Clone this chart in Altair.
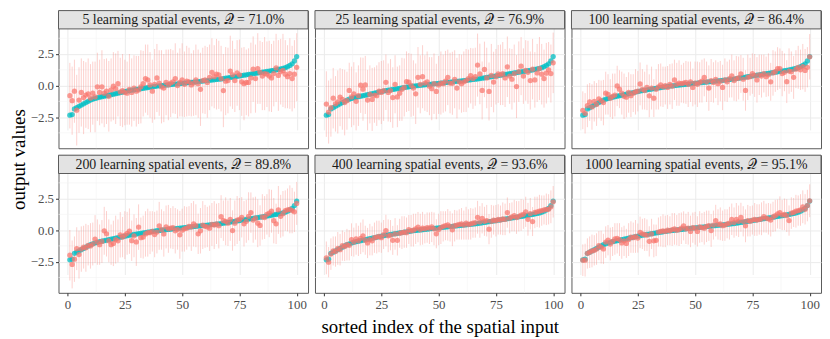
import altair as alt
import pandas as pd

INDEX = list(range(1, 101))

TRUE = [
    -2.35, -2.30, -1.85, -1.75, -1.65, -1.55, -1.45, -1.35, -1.25, -1.15,
    -1.08, -1.02, -0.97, -0.92, -0.88, -0.84, -0.80, -0.76, -0.72, -0.68,
    -0.64, -0.60, -0.56, -0.52, -0.48, -0.44, -0.40, -0.37, -0.34, -0.31,
    -0.28, -0.25, -0.22, -0.19, -0.16, -0.13, -0.10, -0.07, -0.04, -0.02,
    0.00, 0.02, 0.04, 0.06, 0.08, 0.10, 0.12, 0.14, 0.16, 0.18,
    0.20, 0.22, 0.24, 0.26, 0.28, 0.30, 0.32, 0.34, 0.36, 0.38,
    0.40, 0.42, 0.44, 0.46, 0.48, 0.50, 0.52, 0.55, 0.58, 0.61,
    0.64, 0.67, 0.70, 0.73, 0.76, 0.79, 0.82, 0.85, 0.88, 0.91,
    0.94, 0.97, 1.00, 1.03, 1.06, 1.09, 1.12, 1.15, 1.18, 1.21,
    1.24, 1.28, 1.32, 1.36, 1.42, 1.50, 1.60, 1.72, 1.95, 2.30,
]

P1_RED = [
    -0.80, -1.20, -0.45, -1.95, -1.15, -0.55, -0.95, -0.75, -0.65, -1.00,
    -0.60, -0.90, -0.10, -0.55, -0.10, -0.60, -0.45, -0.85, -0.35, -0.05,
    -0.25, 0.15, -0.50, -0.40, -0.55, -0.60, -0.30, -0.55, -0.20, -0.45,
    -0.35, -0.10, 0.15, 0.55, 0.45, 0.05, -0.45, 0.10, 0.60, 0.20,
    -0.10, -0.20, 0.25, 0.05, 0.20, 0.30, 0.55, 0.00, 0.25, 0.45,
    0.10, 0.35, 0.30, 0.05, 0.20, 0.45, 0.15, -0.30, 0.40, 0.45,
    0.25, 0.65, 1.05, 0.70, 0.90, 0.85, 0.55, -0.40, 0.35, 0.40,
    1.15, 0.85, 0.40, 1.00, 0.85, 0.30, 0.15, 0.25, 0.25, 0.60,
    1.30, 0.55, 1.35, 1.05, 0.75, 0.95, 0.90, 0.75, 0.60, 0.95,
    1.40, 0.80, 1.10, 1.20, 0.90, 0.70, 0.95, 0.55, 0.90, 1.45,
]
P1_HW = [
    2.6, 2.7, 2.5, 2.8, 2.6, 2.7, 2.9, 2.6, 2.8, 2.7,
    2.5, 2.8, 2.7, 2.6, 2.9, 2.7, 2.6, 2.8, 2.5, 2.7,
    2.8, 2.6, 2.7, 2.9, 2.6, 2.5, 2.8, 2.7, 2.6, 2.8,
    2.7, 2.9, 2.6, 2.7, 2.8, 2.6, 2.5, 2.8, 2.7, 2.6,
    2.9, 2.7, 2.6, 2.8, 2.7, 2.5, 2.8, 2.6, 2.7, 2.9,
    2.6, 2.8, 2.7, 2.5, 2.6, 2.8, 2.7, 2.9, 2.6, 2.7,
    2.8, 2.6, 2.7, 2.5, 2.8, 2.7, 2.6, 2.9, 2.7, 2.6,
    2.8, 2.7, 2.5, 2.6, 2.8, 2.7, 2.9, 2.6, 2.7, 2.8,
    2.6, 2.7, 2.8, 2.5, 2.7, 2.9, 2.6, 2.8, 2.7, 2.6,
    2.7, 2.8, 2.6, 2.9, 2.7, 2.5, 2.8, 2.6, 2.7, 2.7,
]

P2_RED = [
    -1.47, -2.10, -1.75, -1.00, -1.45, -1.30, -0.92, -1.10, -1.35, -1.20,
    -0.39, -0.90, -0.65, -1.25, -0.80, 0.03, -0.29, 0.05, -1.15, -0.70,
    -1.10, -0.75, -0.80, -0.45, -0.55, -0.40, 0.26, -0.55, -0.40, -0.95,
    0.10, -0.90, -0.60, -0.30, -0.15, 0.31, 0.28, 0.02, -0.20, -0.65,
    0.65, 0.10, 0.70, 0.20, 0.30, -0.05, -0.25, 0.15, -0.47, 0.05,
    0.20, 0.15, 0.35, 0.65, 0.20, 0.18, 0.50, -0.20, 0.30, 0.15,
    0.30, 0.40, 0.55, 0.78, 0.55, 0.70, 1.62, 0.92, -0.39, 1.28,
    0.60, -0.47, 0.80, 0.28, 0.70, 0.92, 0.85, 0.95, 0.60, 1.49,
    0.75, 0.50, 0.95, -0.08, 1.10, 1.54, 0.75, 1.20, 1.05, 0.40,
    1.30, 0.45, 1.00, 1.35, 0.90, 0.55, 0.98, 1.25, 0.95, 1.80,
]
P2_HW = [
    2.6, 2.5, 2.3, 2.4, 2.2, 2.5, 2.3, 2.4, 2.6, 2.3,
    2.2, 2.4, 2.5, 2.3, 2.4, 2.2, 2.5, 2.3, 2.4, 2.3,
    2.5, 2.2, 2.4, 2.3, 2.5, 2.4, 2.2, 2.3, 2.5, 2.4,
    2.3, 2.4, 2.2, 2.5, 2.3, 2.4, 2.3, 2.5, 2.2, 2.4,
    2.4, 2.3, 2.5, 2.2, 2.4, 2.3, 2.5, 2.4, 2.2, 2.3,
    2.5, 2.3, 2.4, 2.2, 2.4, 2.5, 2.3, 2.4, 2.2, 2.3,
    2.4, 2.5, 2.3, 2.2, 2.4, 2.3, 2.5, 2.4, 2.3, 2.2,
    2.4, 2.3, 2.5, 2.4, 2.2, 2.3, 2.4, 2.5, 2.3, 2.4,
    2.2, 2.4, 2.3, 2.5, 2.4, 2.3, 2.2, 2.4, 2.5, 2.3,
    2.4, 2.2, 2.3, 2.5, 2.4, 2.3, 2.4, 2.2, 2.3, 2.4,
]

P3_RED = [
    -1.96, -2.20, -1.60, -1.30, -1.70, -1.25, -1.50, -1.05, -1.20, -1.35,
    -0.60, -0.70, -1.00, -0.85, -0.75, -0.03, -0.29, -0.60, -0.85, -0.92,
    -0.55, -0.80, -0.60, -0.50, -0.45, 0.13, -0.30, -0.40, -0.15, -0.81,
    -0.20, -1.00, -0.30, -0.10, 0.05, -0.10, 0.00, -0.15, 0.10, -0.05,
    0.45, 0.10, 0.20, 0.15, 0.20, 0.25, 0.10, 0.30, -0.15, 0.20,
    0.10, 0.25, 0.35, 0.65, 0.30, -0.20, 0.40, 0.25, 0.50, 0.15,
    0.35, -0.15, 0.45, 0.30, 0.55, 0.76, 0.40, 0.55, 0.60, 0.92,
    0.50, -0.39, 0.65, 0.70, 0.95, 0.80, 0.45, 0.85, 0.75, 0.95,
    0.70, 0.85, 0.30, 1.00, 1.10, 1.34, 1.34, 0.95, 1.05, 0.31,
    1.15, 1.10, 0.65, 1.30, 1.45, 1.25, 1.50, 1.20, 1.45, 2.28,
]
P3_HW = [
    1.5, 1.6, 1.7, 1.5, 1.8, 1.6, 1.7, 1.5, 1.6, 1.8,
    1.7, 1.6, 1.5, 1.8, 1.7, 1.6, 1.5, 1.7, 1.8, 1.6,
    1.6, 1.7, 1.5, 1.8, 1.6, 1.7, 1.6, 1.5, 1.8, 1.7,
    1.7, 1.5, 1.6, 1.8, 1.7, 1.6, 1.5, 1.7, 1.6, 1.8,
    1.6, 1.7, 1.8, 1.5, 1.6, 1.7, 1.8, 1.6, 1.5, 1.7,
    1.8, 1.6, 1.7, 1.5, 1.6, 1.8, 1.7, 1.6, 1.5, 1.7,
    1.6, 1.8, 1.7, 1.6, 1.5, 1.7, 1.6, 1.8, 1.7, 1.5,
    1.7, 1.6, 1.8, 1.5, 1.6, 1.7, 1.8, 1.6, 1.7, 1.5,
    1.6, 1.7, 1.5, 1.8, 1.6, 1.7, 1.6, 1.8, 1.5, 1.7,
    1.8, 1.6, 1.7, 1.5, 1.7, 1.6, 1.8, 1.7, 1.6, 1.8,
]

P4_RED = [
    -1.99, -2.72, -2.30, -1.47, -1.94, -1.50, -1.35, -1.40, -1.20, -1.25,
    -1.10, -0.71, -0.95, -1.15, -0.90, -0.05, -0.29, -0.85, -1.15, -1.05,
    -0.75, -0.85, -0.37, -0.55, -0.40, -0.25, -0.08, -0.84, -0.45, -0.94,
    0.24, -0.60, -0.55, -0.30, -0.20, -0.20, -0.10, -0.35, -0.15, 0.34,
    0.05, -0.30, 0.25, 0.10, 0.15, 0.20, -0.05, 0.05, -0.37, 0.00,
    0.10, 0.15, 0.30, 0.25, 0.50, 0.35, -0.29, -0.05, 0.40, 0.30,
    0.25, 0.15, 0.45, 0.40, 0.50, 0.35, 1.07, 0.75, 0.70, 0.55,
    0.85, -0.03, 0.55, 0.80, 0.85, 1.02, 0.50, 0.70, 1.10, 1.39,
    0.80, 0.95, 0.55, 0.37, 1.05, 1.00, 1.25, 1.34, 1.50, 0.75,
    0.50, 1.60, 1.10, 1.30, 1.55, 1.60, 1.65, 1.55, 1.45, 2.12,
]
P4_HW = [
    2.0, 1.9, 1.8, 1.7, 1.9, 1.8, 1.7, 1.9, 1.6, 1.8,
    1.7, 1.9, 1.8, 1.6, 1.7, 1.9, 1.8, 1.7, 1.6, 1.8,
    1.9, 1.7, 1.8, 1.6, 1.9, 1.7, 1.8, 1.6, 1.7, 1.9,
    1.8, 1.6, 1.7, 1.8, 1.9, 1.7, 1.6, 1.8, 1.7, 1.9,
    1.6, 1.8, 1.7, 1.9, 1.6, 1.7, 1.8, 1.6, 1.9, 1.7,
    1.8, 1.7, 1.6, 1.9, 1.8, 1.7, 1.6, 1.8, 1.9, 1.7,
    1.6, 1.8, 1.7, 1.9, 1.6, 1.8, 1.7, 1.6, 1.9, 1.8,
    1.7, 1.6, 1.8, 1.9, 1.7, 1.6, 1.8, 1.7, 1.9, 1.6,
    1.8, 1.7, 1.9, 1.6, 1.8, 1.7, 1.6, 1.9, 1.7, 1.8,
    1.6, 1.9, 1.7, 1.8, 1.6, 1.7, 1.9, 1.8, 1.6, 1.7,
]

P5_RED = [
    -2.20, -2.54, -1.90, -1.65, -1.70, -1.45, -1.55, -1.23, -1.30, -1.15,
    -1.20, -0.76, -0.95, -0.70, -0.85, -0.65, -0.45, -0.80, -1.02, -0.75,
    -0.85, -0.60, -0.55, -0.50, -0.60, -0.35, -0.03, -0.45, -0.40, -0.81,
    -0.30, -0.81, -0.25, -0.20, -0.15, -0.20, 0.05, -0.05, 0.00, 0.10,
    0.24, 0.05, 0.15, 0.10, 0.20, 0.15, 0.25, 0.10, -0.29, 0.05,
    0.20, 0.30, 0.35, 0.42, 0.30, 0.03, 0.35, 0.40, 0.45, 0.50,
    0.40, 0.55, 0.45, 0.50, 0.55, 0.60, 1.02, 0.65, 0.94, 0.70,
    0.75, 0.08, 0.70, 0.80, 0.75, 0.85, 0.80, 0.90, 0.85, 1.39,
    0.95, 1.05, 1.15, 1.00, 1.10, 1.20, 1.25, 1.45, 0.86, 1.30,
    0.68, 1.40, 1.45, 1.50, 1.55, 1.60, 1.65, 1.65, 1.85, 2.25,
]
P5_HW = [
    1.3, 1.2, 1.25, 1.15, 1.2, 1.3, 1.25, 1.2, 1.15, 1.25,
    1.2, 1.3, 1.15, 1.25, 1.2, 1.25, 1.3, 1.15, 1.2, 1.25,
    1.15, 1.2, 1.3, 1.25, 1.2, 1.15, 1.25, 1.3, 1.2, 1.15,
    1.25, 1.2, 1.15, 1.3, 1.25, 1.2, 1.15, 1.25, 1.3, 1.2,
    1.2, 1.25, 1.3, 1.15, 1.2, 1.25, 1.2, 1.3, 1.15, 1.25,
    1.3, 1.2, 1.15, 1.25, 1.2, 1.3, 1.25, 1.15, 1.2, 1.25,
    1.15, 1.3, 1.2, 1.25, 1.15, 1.2, 1.3, 1.25, 1.2, 1.15,
    1.25, 1.2, 1.3, 1.15, 1.25, 1.2, 1.15, 1.3, 1.25, 1.2,
    1.2, 1.15, 1.25, 1.3, 1.2, 1.25, 1.15, 1.2, 1.3, 1.25,
    1.15, 1.25, 1.2, 1.3, 1.2, 1.15, 1.25, 1.2, 1.3, 1.25,
]

P6_RED = [
    -2.38, -2.38, -1.85, -1.75, -1.65, -1.60, -1.50, -1.23, -1.35, -1.49,
    -0.95, -0.80, -1.10, -0.90, -0.70, -0.65, -0.75, -1.02, -0.85, -1.05,
    -0.75, -0.55, -0.60, -0.50, -0.63, -0.18, -0.30, -0.35, -0.40, -0.89,
    -0.30, -0.85, -0.81, -0.15, -0.10, -0.05, -0.10, 0.00, -0.05, 0.05,
    0.10, 0.00, 0.05, 0.15, 0.34, 0.10, 0.15, -0.10, 0.20, 0.15,
    -0.10, 0.25, 0.20, 0.15, 0.30, 0.35, -0.03, 0.40, 0.76, 0.45,
    0.50, 0.35, 0.40, 0.50, 0.55, 0.86, 0.60, 0.85, 0.70, 1.02,
    0.70, 0.34, 0.75, 0.70, 0.80, 0.85, 0.80, 0.85, 0.90, 1.07,
    0.95, 0.90, 0.80, 1.05, 1.15, 1.28, 1.38, 1.20, 1.25, 1.15,
    0.76, 1.35, 1.40, 1.50, 1.55, 1.60, 1.85, 1.65, 1.95, 2.33,
]
P6_HW = [
    1.25, 1.3, 1.2, 1.25, 1.3, 1.2, 1.25, 1.15, 1.3, 1.2,
    1.25, 1.2, 1.3, 1.15, 1.25, 1.2, 1.3, 1.25, 1.2, 1.15,
    1.3, 1.25, 1.2, 1.3, 1.15, 1.25, 1.2, 1.3, 1.25, 1.2,
    1.2, 1.3, 1.25, 1.15, 1.2, 1.3, 1.25, 1.2, 1.15, 1.3,
    1.25, 1.2, 1.3, 1.25, 1.15, 1.2, 1.3, 1.25, 1.2, 1.3,
    1.2, 1.25, 1.15, 1.3, 1.25, 1.2, 1.3, 1.15, 1.25, 1.2,
    1.3, 1.2, 1.25, 1.15, 1.3, 1.25, 1.2, 1.3, 1.25, 1.15,
    1.2, 1.3, 1.25, 1.2, 1.15, 1.3, 1.25, 1.2, 1.3, 1.25,
    1.15, 1.25, 1.3, 1.2, 1.25, 1.15, 1.3, 1.2, 1.25, 1.3,
    1.2, 1.25, 1.15, 1.3, 1.2, 1.25, 1.3, 1.2, 1.25, 1.3,
]

EVENTS = [5, 25, 100, 200, 400, 1000]
QUALITY = ["71.0", "76.9", "86.4", "89.8", "93.6", "95.1"]
REDS = [P1_RED, P2_RED, P3_RED, P4_RED, P5_RED, P6_RED]
HWS = [P1_HW, P2_HW, P3_HW, P4_HW, P5_HW, P6_HW]

X_TICKS = [0, 25, 50, 75, 100]
Y_TICKS = [-2.5, 0.0, 2.5]
X_MINOR = [12.5, 37.5, 62.5, 87.5]
Y_MINOR = [-3.75, -1.25, 1.25, 3.75]

FONT = "Liberation Serif"
W, H, STRIP = 252, 139, 18.5
RED, TEAL = "#F8766D", "#00BFC4"
BORDER = "#5A5A5A"


def panel(i):
    row, col = divmod(i, 3)
    df = pd.DataFrame({
        "idx": INDEX,
        "true": TRUE,
        "pred": REDS[i],
        "lo": [p - h for p, h in zip(REDS[i], HWS[i])],
        "hi": [p + h for p, h in zip(REDS[i], HWS[i])],
    })
    bottom = row == 1
    left = col == 0
    xaxis_kw = dict(values=X_TICKS, labels=bottom, ticks=bottom, domain=False,
                    grid=True, gridColor="#EBEBEB", gridWidth=1,
                    labelFont=FONT, labelFontSize=13, labelColor="#4D4D4D",
                    tickColor="#333333", tickSize=3, labelPadding=3,
                    titleFont=FONT, titleFontSize=19, titleFontWeight="normal",
                    titleColor="#000000", titlePadding=6)
    yaxis_kw = dict(values=Y_TICKS, labels=left, ticks=left, domain=False,
                    grid=True, gridColor="#EBEBEB", gridWidth=1, format=".1f",
                    labelFont=FONT, labelFontSize=13, labelColor="#4D4D4D",
                    tickColor="#333333", tickSize=3, labelPadding=2,
                    titleFont=FONT, titleFontSize=19, titleFontWeight="normal",
                    titleColor="#000000", titlePadding=2)
    xtitle = "sorted index of the spatial input" if i == 4 else None
    ytitle = "output values" if i == 0 else None
    if xtitle:
        xaxis = alt.Axis(title=xtitle, **xaxis_kw)
    else:
        xaxis = alt.Axis(**xaxis_kw)
    if ytitle:
        yaxis = alt.Axis(title=ytitle, titleY=150, **yaxis_kw)
    else:
        yaxis = alt.Axis(**yaxis_kw)

    xs = alt.Scale(domain=[-3.95, 104.95], nice=False, zero=False)
    ys = alt.Scale(domain=[-4.97, 4.49], range=[H, STRIP], nice=False, zero=False)

    base = alt.Chart(df)
    bars = base.mark_rule(color=RED, opacity=0.34, strokeWidth=1).encode(
        x=alt.X("idx:Q", scale=xs, axis=xaxis, title=xtitle),
        y=alt.Y("lo:Q", scale=ys, axis=yaxis, title=ytitle),
        y2="hi:Q",
    )
    teal = base.mark_circle(color=TEAL, opacity=0.75, size=28).encode(
        x=alt.X("idx:Q", scale=xs), y=alt.Y("true:Q", scale=ys))
    red = base.mark_circle(color=RED, opacity=0.72, size=28).encode(
        x=alt.X("idx:Q", scale=xs), y=alt.Y("pred:Q", scale=ys))

    gx = alt.Chart(pd.DataFrame({"v": X_MINOR})).mark_rule(
        color="#F3F3F3", strokeWidth=0.6).encode(
        x=alt.X("v:Q", scale=xs), y=alt.value(STRIP), y2=alt.value(H))
    gy = alt.Chart(pd.DataFrame({"v": Y_MINOR})).mark_rule(
        color="#F3F3F3", strokeWidth=0.6).encode(
        y=alt.Y("v:Q", scale=ys), x=alt.value(0), x2=alt.value(W))

    label = f"{EVENTS[i]} learning spatial events, \U0001D4AC = {QUALITY[i]}%"
    sdf = pd.DataFrame({"t": [label]})
    strip = alt.Chart(sdf).mark_rect(fill="#E3E3E3", stroke=BORDER, strokeWidth=1).encode(
        x=alt.value(0), x2=alt.value(W), y=alt.value(0), y2=alt.value(STRIP))
    stext = alt.Chart(sdf).mark_text(font=FONT, fontSize=14, color="#1A1A1A",
                                     baseline="middle", align="center").encode(
        x=alt.value(W / 2), y=alt.value(STRIP / 2 + 0.5), text="t:N")

    return alt.layer(gx, gy, bars, teal, red, strip, stext).properties(width=W, height=H)


chart = alt.concat(*[panel(i) for i in range(6)], columns=3, spacing=7,
                   bounds="flush").properties(
    padding=0, background="white"
).configure_view(stroke=BORDER, strokeWidth=1)

chart.save("out.html", embed_options={"renderer": "svg", "actions": False})
